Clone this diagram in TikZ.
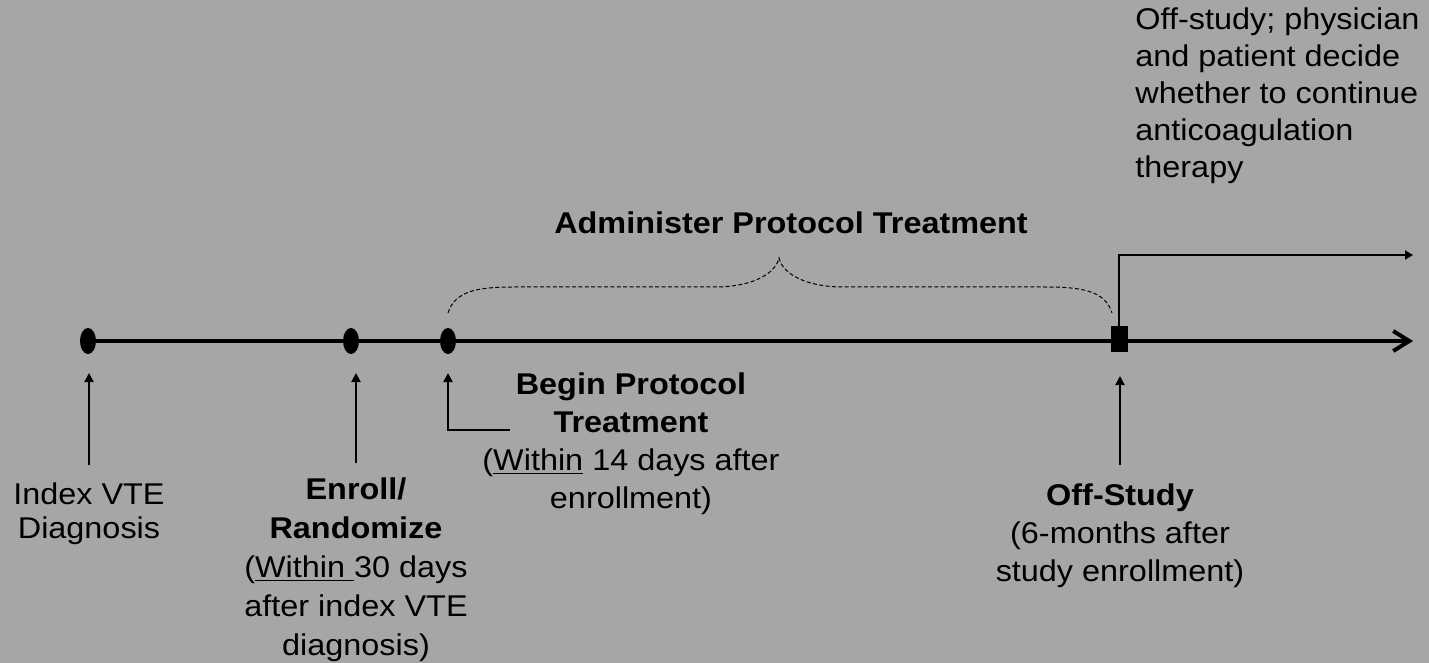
\documentclass[tikz,border=0pt]{standalone}
\usepackage{fontspec}
\setmainfont{Liberation Sans}[FakeStretch=1.08]
\usetikzlibrary{arrows.meta,shapes.geometric}
\definecolor{bg}{HTML}{A6A6A6}
\begin{document}
\begin{tikzpicture}[x=0.5pt,y=-0.5pt,
  txt/.style={inner sep=0pt,align=center,font=\fontsize{15pt}{19pt}\selectfont},
  dotmark/.style={ellipse,fill=black,minimum width=8pt,minimum height=13pt,inner sep=0pt},
  sqmark/.style={rectangle,fill=black,minimum width=8.5pt,minimum height=13pt,inner sep=0pt},
  mainline/.style={line width=2pt},
  uparr/.style={line width=1pt,-{Triangle[length=4.5pt,width=4.5pt]}},
  brace/.style={line width=0.5pt,dash pattern=on 2pt off 1.2pt}]
\useasboundingbox[fill=bg] (0,0) rectangle (1429,663);

% markers on the timeline
\node[dotmark] (d1) at (88,341) {};
\node[dotmark] (d2) at (351,341) {};
\node[dotmark] (d3) at (448,341) {};
\node[sqmark] (sq) at (1119,339) {};
\coordinate (tend) at (1413,341);
\coordinate (offend) at (1413,255);
\coordinate (offcorner) at (1119,255);

% main timeline
\draw[mainline,-{Straight Barb[length=8pt,width=10pt,line width=2pt]}] (d1.center) -- (tend);
\draw[line width=1.3pt,-{Triangle[length=4pt,width=4.5pt]}] (sq.north) -- (offcorner) -- (offend);

% brace
\draw[brace] (448,313) .. controls (455,290) and (480,287) .. (515,287) -- (715,287)
  .. controls (750,287) and (775,275) .. (779,258)
  .. controls (783,275) and (808,287) .. (843,287) -- (1045,287)
  .. controls (1080,287) and (1105,290) .. (1112,313);

% labels
\node[txt,font=\fontsize{15pt}{19pt}\selectfont\bfseries] (adm) at (791,223) {Administer Protocol Treatment};
\node[txt,align=left,anchor=west,font=\fontsize{15pt}{18.5pt}\selectfont] (offnote) at (1135,96)
  {Off-study; physician\\and patient decide\\whether to continue\\anticoagulation\\therapy};
\node[txt,font=\fontsize{15pt}{17pt}\selectfont] (idx) at (89,514) {Index VTE\\Diagnosis};
\node[txt,font=\fontsize{15pt}{19.5pt}\selectfont] (enr) at (356,570) {\textbf{Enroll/}\\\textbf{Randomize}\\(\underline{Within\ }30 days\\after index VTE\\diagnosis)};
\node[txt] (beg) at (631,444) {\textbf{Begin Protocol}\\\textbf{Treatment}\\(\underline{Within} 14 days after\\enrollment)};
\node[txt] (off) at (1120,536) {\textbf{Off-Study}\\(6-months after\\study enrollment)};

% pointer arrows
\coordinate (a1s) at (89,465);  \coordinate (a1e) at (89,373);
\coordinate (a2s) at (356,463); \coordinate (a2e) at (356,373);
\coordinate (a3s) at (510,430); \coordinate (a3c) at (448,430); \coordinate (a3e) at (448,373);
\coordinate (a4s) at (1120,465); \coordinate (a4e) at (1120,376);
\draw[uparr] (a1s) -- (a1e);
\draw[uparr] (a2s) -- (a2e);
\draw[uparr] (a3s) -- (a3c) -- (a3e);
\draw[uparr] (a4s) -- (a4e);
\end{tikzpicture}
\end{document}
